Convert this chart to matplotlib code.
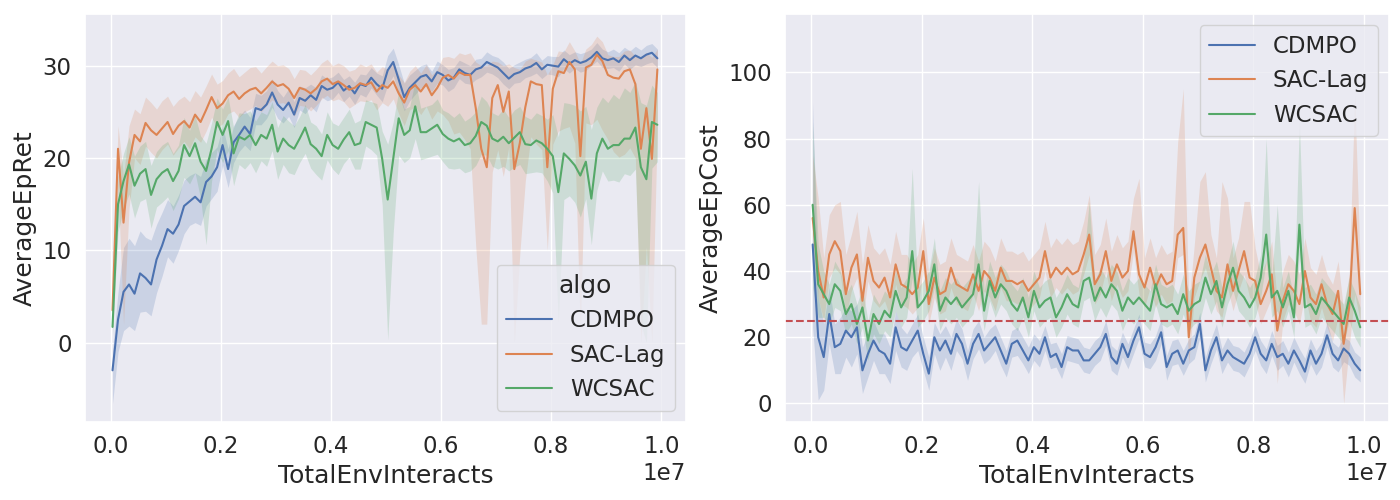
import numpy as np
import matplotlib
matplotlib.use('Agg')
import matplotlib.pyplot as plt
import seaborn as sns

sns.set_theme(style='darkgrid', font_scale=1.5)

algos = ['CDMPO', 'SAC-Lag', 'WCSAC']
steps = np.arange(100) * 1e5 + 3e4
cost_limit = 25

# AverageEpRet (mean, distance of band below, distance of band above)
ret_cdmpo = [-3.0, 2.5, 5.5, 6.3, 5.3, 7.5, 7.0, 6.3, 9.0, 10.5,
             12.3, 11.8, 12.8, 14.8, 15.3, 15.8, 15.2, 17.4, 18.0, 19.0,
             21.4, 18.8, 21.7, 22.5, 23.4, 22.6, 25.4, 25.2, 25.8, 27.1,
             25.8, 25.2, 26.0, 24.7, 26.5, 26.2, 26.8, 26.3, 27.8, 27.4,
             27.6, 28.2, 27.3, 27.8, 27.0, 28.0, 27.8, 28.7, 28.0, 27.5,
             29.5, 30.4, 28.5, 26.6, 27.6, 28.2, 28.8, 29.0, 28.3, 29.3,
             29.0, 28.4, 28.7, 29.6, 29.2, 29.0, 29.6, 29.8, 30.4, 30.1,
             29.8, 29.2, 28.6, 29.1, 29.3, 29.7, 29.9, 30.3, 29.6, 30.1,
             30.0, 29.9, 30.7, 30.2, 30.6, 30.3, 30.5, 30.9, 31.5, 30.8,
             30.6, 30.8, 30.4, 31.1, 30.6, 31.1, 30.8, 31.2, 31.4, 30.8]
ret_cdmpo_dn = [3.6, 3.5, 4.2, 4.5, 4.0, 4.2, 3.6, 3.4, 3.6, 3.3,
                3.0, 3.2, 2.8, 3.0, 2.6, 2.8, 2.5, 2.6, 2.4, 2.6,
                2.2, 2.0, 2.2, 1.8, 2.0, 1.8, 1.8, 1.6, 1.5, 1.6,
                1.5, 1.4, 1.5, 1.4, 1.3, 1.4, 1.2, 1.3, 1.2, 1.2,
                1.2, 1.1, 1.2, 1.1, 1.2, 1.1, 1.2, 1.1, 1.2, 1.4,
                1.6, 1.5, 1.6, 1.5, 1.4, 1.3, 1.2, 1.2, 1.1, 1.2,
                1.1, 1.2, 1.1, 1.0, 1.1, 1.0, 1.1, 1.0, 1.1, 1.0,
                1.1, 1.2, 1.1, 1.0, 1.1, 1.0, 1.0, 1.1, 1.0, 1.0,
                1.0, 1.1, 1.0, 1.0, 0.9, 1.0, 1.0, 0.9, 1.0, 1.0,
                0.9, 1.0, 1.0, 0.9, 1.0, 1.0, 0.9, 1.0, 1.0, 1.0]
ret_cdmpo_up = [2.2, 3.0, 4.8, 5.0, 5.2, 4.6, 4.4, 4.8, 3.8, 3.6,
                3.2, 3.0, 3.2, 2.8, 2.8, 2.6, 2.8, 2.4, 2.6, 2.2,
                2.0, 2.2, 1.8, 2.0, 1.8, 1.8, 1.6, 1.6, 1.5, 1.5,
                1.5, 1.4, 1.5, 1.4, 1.3, 1.4, 1.2, 1.3, 1.2, 1.2,
                1.2, 1.1, 1.2, 1.1, 1.2, 1.1, 1.2, 1.1, 1.2, 1.4,
                1.6, 1.5, 1.6, 1.5, 1.4, 1.3, 1.2, 1.2, 1.1, 1.2,
                1.1, 1.2, 1.1, 1.0, 1.1, 1.0, 1.1, 1.0, 1.1, 1.0,
                1.1, 1.2, 1.1, 1.0, 1.1, 1.0, 1.0, 1.1, 1.0, 1.0,
                1.0, 1.1, 1.0, 1.0, 0.9, 1.0, 1.0, 0.9, 1.0, 1.0,
                0.9, 1.0, 1.0, 0.9, 1.0, 1.0, 0.9, 1.0, 1.0, 1.0]

ret_sac = [3.5, 21.0, 13.0, 19.5, 22.5, 21.8, 23.8, 23.0, 22.5, 23.2,
           23.9, 22.6, 23.5, 24.0, 23.3, 24.7, 23.9, 25.2, 26.6, 25.4,
           25.9, 26.8, 27.2, 26.4, 27.0, 27.4, 27.6, 27.0, 27.6, 28.3,
           27.8, 28.0, 27.5, 26.5, 27.6, 27.4, 27.0, 27.5, 28.3, 28.6,
           28.0, 28.3, 27.9, 27.4, 27.6, 28.1, 27.9, 28.2, 27.2, 27.9,
           27.6, 28.3, 27.0, 26.0, 27.4, 27.9, 27.2, 28.0, 26.8, 27.6,
           28.7, 29.0, 28.6, 29.3, 29.0, 29.0, 25.4, 21.0, 19.0, 26.5,
           27.9, 25.0, 27.2, 18.8, 21.6, 25.5, 28.3, 28.0, 27.9, 19.0,
           27.5, 29.4, 29.2, 30.4, 29.6, 20.2, 29.8, 30.1, 31.2, 30.5,
           29.0, 28.7, 28.6, 29.4, 29.6, 28.0, 21.0, 25.4, 19.9, 29.6]
ret_sac_dn = [2.0, 4.0, 11.0, 5.0, 2.5, 2.5, 2.5, 2.4, 2.5, 2.3,
              2.4, 2.3, 2.4, 2.2, 2.3, 2.4, 2.2, 2.3, 2.2, 2.1,
              2.2, 2.0, 2.1, 2.0, 2.0, 2.1, 1.9, 2.0, 1.9, 2.0,
              1.9, 2.0, 1.9, 2.0, 1.9, 1.8, 1.9, 1.8, 1.9, 1.8,
              1.8, 1.9, 1.8, 2.0, 1.8, 1.9, 1.8, 1.9, 2.0, 1.9,
              2.0, 1.9, 2.2, 2.5, 2.2, 2.3, 2.5, 2.4, 2.6, 2.5,
              4.0, 5.0, 6.0, 6.5, 7.0, 8.0, 15.0, 19.0, 17.0, 8.0,
              7.0, 7.0, 6.0, 18.8, 12.0, 8.0, 6.0, 6.5, 7.0, 9.0,
              6.0, 6.5, 6.0, 7.0, 8.0, 19.0, 6.0, 6.5, 7.0, 7.5,
              7.0, 8.0, 8.5, 9.0, 8.5, 8.0, 21.0, 15.0, 19.9, 6.0]
ret_sac_up = [2.0, 2.5, 5.0, 4.0, 2.8, 3.0, 2.8, 3.0, 2.8, 3.0,
              2.8, 3.0, 2.8, 2.7, 2.8, 2.6, 2.7, 2.6, 2.5, 2.6,
              2.5, 2.4, 2.5, 2.4, 2.3, 2.4, 2.3, 2.2, 2.3, 2.2,
              2.2, 2.1, 2.2, 2.1, 2.0, 2.1, 2.0, 2.1, 2.0, 2.1,
              2.0, 2.0, 2.1, 2.0, 2.0, 2.1, 2.0, 2.0, 2.1, 2.0,
              2.0, 2.1, 2.0, 2.2, 2.0, 2.1, 2.0, 2.1, 2.2, 2.0,
              2.2, 2.0, 2.2, 2.1, 2.2, 2.4, 5.0, 9.0, 11.0, 4.0,
              2.5, 5.0, 3.0, 11.0, 8.0, 5.0, 2.5, 2.6, 2.5, 10.0,
              2.6, 2.2, 2.3, 2.2, 2.0, 10.0, 2.0, 2.2, 2.0, 2.1,
              2.2, 2.3, 2.4, 2.2, 2.1, 3.0, 10.0, 6.0, 11.0, 2.2]

ret_wcsac = [1.7, 15.0, 17.5, 19.3, 17.0, 18.3, 18.8, 16.0, 17.7, 18.4,
             18.8, 17.5, 18.6, 21.4, 20.2, 21.6, 19.6, 18.6, 21.0, 23.9,
             22.5, 24.0, 20.5, 22.3, 22.0, 22.5, 21.4, 22.5, 22.1, 23.6,
             20.7, 22.1, 21.4, 21.0, 22.1, 23.3, 21.5, 21.0, 20.2, 22.5,
             21.4, 21.0, 22.0, 22.8, 21.4, 21.6, 23.9, 23.6, 23.3, 19.9,
             15.5, 19.9, 24.3, 22.5, 23.0, 25.6, 22.8, 22.8, 23.2, 23.6,
             22.6, 22.1, 21.8, 22.1, 21.4, 21.6, 22.4, 23.9, 23.5, 22.1,
             21.8, 22.3, 21.6, 22.2, 22.8, 21.5, 21.4, 21.9, 21.6, 21.0,
             20.2, 16.3, 20.5, 19.9, 19.2, 18.1, 19.6, 15.6, 20.5, 22.1,
             21.0, 21.4, 21.4, 22.1, 22.1, 23.3, 19.0, 17.7, 23.9, 23.6]
ret_wcsac_dn = [1.0, 3.0, 3.0, 3.2, 3.5, 3.0, 3.2, 3.6, 3.0, 3.2,
                3.0, 3.2, 3.0, 3.5, 3.0, 3.2, 4.0, 8.0, 3.5, 3.0,
                3.0, 3.2, 3.5, 3.0, 3.2, 3.0, 3.0, 2.8, 3.0, 2.8,
                3.0, 2.8, 3.0, 2.8, 2.6, 2.8, 2.6, 2.8, 2.6, 2.7,
                2.6, 2.8, 2.6, 2.7, 2.6, 2.8, 2.6, 2.7, 3.0, 5.0,
                15.2, 8.0, 4.0, 3.0, 3.0, 3.5, 3.0, 2.8, 3.0, 3.2,
                3.0, 3.2, 3.0, 3.2, 3.0, 3.0, 3.2, 3.5, 3.2, 3.0,
                3.0, 3.2, 3.0, 3.2, 3.5, 3.2, 3.0, 3.4, 3.2, 3.5,
                4.0, 14.0, 5.0, 4.0, 4.0, 4.5, 4.0, 5.0, 4.0, 3.5,
                3.5, 3.8, 4.0, 3.8, 4.0, 4.5, 17.0, 17.7, 5.0, 4.0]
ret_wcsac_up = [1.0, 3.0, 3.0, 3.0, 3.2, 3.0, 3.0, 3.2, 3.0, 3.0,
                3.0, 3.0, 2.8, 3.0, 2.8, 3.0, 2.8, 3.0, 2.8, 2.6,
                2.8, 2.6, 2.8, 2.6, 2.8, 2.6, 2.6, 2.5, 2.6, 2.5,
                2.6, 2.5, 2.6, 2.5, 2.4, 2.5, 2.4, 2.5, 2.4, 2.5,
                2.4, 2.5, 2.4, 2.5, 2.4, 2.5, 2.4, 2.5, 2.6, 3.0,
                6.0, 4.0, 3.0, 2.8, 2.6, 2.8, 2.6, 2.8, 2.6, 2.8,
                2.6, 2.8, 2.6, 2.8, 2.6, 2.8, 2.6, 2.8, 2.6, 2.8,
                2.8, 3.0, 2.8, 3.0, 2.8, 3.0, 2.8, 3.0, 3.0, 3.2,
                4.5, 6.0, 5.5, 6.0, 6.5, 7.0, 6.0, 7.5, 5.0, 4.5,
                5.0, 5.5, 5.0, 5.5, 5.0, 5.0, 7.0, 8.0, 4.0, 3.5]

# AverageEpCost
cost_cdmpo = [48, 20, 14, 27, 17, 18, 22, 20, 23, 10,
              15, 19, 16, 15, 12, 23, 17, 16, 19, 22,
              15, 9, 20, 16, 19, 15, 21, 18, 12, 18,
              21, 16, 18, 20, 16, 12, 18, 19, 16, 13,
              17, 15, 20, 14, 15, 11, 17, 16, 16, 13,
              13, 15, 17, 21, 14, 12, 18, 14, 19, 23,
              15, 14, 17, 21.5, 11, 15, 16, 12, 16, 17,
              24, 10, 16, 20, 13, 16, 14, 13, 12, 15,
              20, 15, 13, 18, 14, 15, 12, 16, 13, 9.6,
              16, 12, 15, 20.6, 15, 13, 16.6, 15, 12, 10]
cost_cdmpo_dn = [25, 19, 10, 9, 8, 9, 8, 9, 8, 7,
                 7, 6, 7, 6, 6, 7, 6, 6, 5, 6,
                 5, 5, 5, 6, 5, 5, 5, 4.5, 5, 4.5,
                 4.5, 4, 4.5, 4, 4.5, 4, 4, 4.5, 4, 4,
                 4, 4, 4, 3.5, 4, 3.5, 4, 3.5, 4, 3.5,
                 4, 3.5, 4, 3.5, 4, 3.5, 4, 3.5, 4, 3.5,
                 4, 3.5, 4, 3.5, 4, 3.5, 4, 3.5, 4, 3.5,
                 4, 3.5, 4, 3.5, 4, 3.5, 4, 3.5, 4, 3.5,
                 4, 3.5, 4, 3.5, 4, 3.5, 4, 3.5, 4, 3.5,
                 4, 3.5, 4, 3.5, 4, 3.5, 4, 3.5, 4, 3.5]
cost_cdmpo_up = [43, 12, 10, 8, 7, 8, 7, 8, 7, 7,
                 6, 6, 5, 6, 5, 5, 6, 5, 5, 5,
                 5, 5, 4.5, 5, 4.5, 5, 4.5, 4.5, 4, 4.5,
                 4, 4, 4.5, 4, 4, 4, 4, 4, 4, 4,
                 4, 4, 3.5, 4, 3.5, 4, 3.5, 4, 3.5, 4,
                 3.5, 4, 3.5, 4, 3.5, 4, 3.5, 4, 3.5, 4,
                 3.5, 4, 3.5, 4, 3.5, 4, 3.5, 4, 3.5, 4,
                 3.5, 4, 3.5, 4, 3.5, 4, 3.5, 4, 3.5, 4,
                 3.5, 4, 3.5, 4, 3.5, 4, 3.5, 4, 3.5, 4,
                 3.5, 4, 3.5, 4, 3.5, 4, 3.5, 4, 3.5, 4]

cost_sac = [56, 40, 32, 45, 49, 46, 33, 41, 45, 31,
            44, 37, 35, 38, 32, 42, 36, 35, 33, 35,
            46, 30, 38, 33, 34, 41, 36, 35, 34, 39,
            34, 40, 38, 34, 41, 37, 37, 36, 37, 34,
            36, 38, 46, 38, 41, 39, 41, 39, 40, 45,
            51, 36, 39, 46, 37, 42, 38, 40, 52, 39,
            35, 41, 35, 39, 36, 37, 51, 53, 20, 38,
            44, 48, 41, 34, 32, 42, 34, 40, 46, 38,
            37, 30, 34, 39, 22, 31, 36, 34, 30, 40,
            32, 30, 36, 30, 27, 34, 18, 29, 59, 33]
cost_sac_dn = [8, 8, 7, 7, 8, 7, 7, 7, 7, 6,
               7, 6, 6, 7, 6, 6, 6, 6, 6, 6,
               6, 6, 6, 6, 6, 6, 6, 6, 6, 6,
               6, 6, 6, 6, 6, 6, 6, 6, 6, 6,
               6, 6, 6, 6, 6, 6, 6, 6, 6, 6,
               6, 6, 6, 6, 6, 6, 6, 6, 6, 6,
               6, 6, 6, 6, 6, 6, 7, 8, 8, 6,
               7, 7, 6, 6, 6, 7, 6, 6, 7, 6,
               6, 6, 6, 7, 16, 6, 6, 6, 6, 7,
               7, 7, 7, 7, 8, 8, 18, 12, 26, 8]
cost_sac_up = [19, 22, 12, 12, 11, 15, 12, 10, 13, 11,
               10, 10, 10, 9, 10, 10, 9, 10, 9, 10,
               10, 9, 9, 9, 9, 9, 9, 9, 9, 9,
               9, 9, 9, 9, 9, 9, 9, 9, 9, 9,
               9, 9, 9, 9, 9, 9, 9, 9, 9, 10,
               12, 9, 9, 10, 9, 9, 9, 9, 10, 29,
               9, 9, 9, 9, 9, 9, 28, 42, 10, 10,
               23, 22, 10, 10, 35, 20, 10, 10, 15, 23,
               10, 9, 9, 10, 9, 9, 9, 9, 9, 10,
               9, 9, 9, 9, 9, 9, 10, 10, 34, 9]

cost_wcsac = [60, 36, 33, 30, 36, 34, 27, 30, 24, 29,
              19, 27, 24, 28, 26, 34, 29, 32, 46, 29,
              31, 34, 42, 28, 32, 30, 32, 29, 31, 33,
              42, 28, 37, 32, 36, 34, 30, 28, 32, 26,
              34, 29, 31, 32, 26, 29, 33, 30, 29, 37,
              38, 31, 35, 32, 36, 34, 28, 32, 30, 32,
              30, 28, 36, 30, 29, 30, 27, 33, 28, 30,
              31, 38, 33, 37, 29, 36, 41, 34, 32, 29,
              32, 38, 51, 32, 34, 29, 34, 26, 54, 29,
              30, 27, 32, 30, 28, 26, 24, 32, 28, 23]
cost_wcsac_dn = [25, 10, 7, 6, 7, 6, 6, 6, 6, 6,
                 6, 6, 6, 6, 6, 6, 6, 6, 8, 6,
                 6, 6, 7, 6, 6, 6, 6, 6, 6, 6,
                 7, 6, 6, 6, 6, 6, 6, 6, 6, 6,
                 6, 6, 6, 6, 6, 6, 6, 6, 6, 6,
                 6, 6, 6, 6, 6, 6, 6, 6, 6, 6,
                 6, 6, 6, 6, 6, 6, 6, 6, 6, 6,
                 6, 6, 6, 6, 6, 6, 7, 6, 6, 6,
                 6, 6, 8, 6, 6, 6, 6, 6, 9, 6,
                 6, 6, 6, 6, 6, 6, 6, 7, 8, 6]
cost_wcsac_up = [25, 12, 7, 6, 7, 6, 6, 6, 6, 6,
                 6, 6, 6, 6, 6, 6, 6, 6, 25, 6,
                 6, 6, 8, 6, 6, 6, 6, 6, 6, 6,
                 25, 6, 6, 6, 6, 6, 6, 6, 6, 6,
                 6, 6, 6, 6, 6, 6, 6, 6, 6, 6,
                 23, 6, 6, 6, 6, 6, 6, 6, 6, 6,
                 6, 6, 6, 6, 6, 6, 6, 6, 6, 6,
                 6, 7, 6, 6, 6, 6, 8, 6, 6, 6,
                 6, 7, 29, 6, 26, 6, 6, 6, 31, 6,
                 6, 6, 6, 6, 6, 6, 6, 6, 6, 6]

ret_series = [(ret_cdmpo, ret_cdmpo_dn, ret_cdmpo_up),
              (ret_sac, ret_sac_dn, ret_sac_up),
              (ret_wcsac, ret_wcsac_dn, ret_wcsac_up)]
cost_series = [(cost_cdmpo, cost_cdmpo_dn, cost_cdmpo_up),
               (cost_sac, cost_sac_dn, cost_sac_up),
               (cost_wcsac, cost_wcsac_dn, cost_wcsac_up)]

colors = sns.color_palette('deep')

fig = plt.figure(figsize=(14, 5), dpi=100)
ax1 = fig.add_axes([85/1400, 78/500, 601/1400, 408/500])
ax2 = fig.add_axes([785/1400, 78/500, 604/1400, 408/500])

for ax, series in [(ax1, ret_series), (ax2, cost_series)]:
    for name, (m, dn, up), c in zip(algos, series, colors):
        m = np.array(m, dtype=float)
        ax.fill_between(steps, m - np.array(dn), m + np.array(up),
                        color=c, alpha=0.2, linewidth=0)
        ax.plot(steps, m, color=c, lw=1.5, label=name)
    ax.set_xlabel('TotalEnvInteracts')
    ax.set_xlim(-0.47e6, 10.45e6)

ax2.axhline(cost_limit, color=colors[3], ls='--', lw=1.5)

ax1.set_ylabel('AverageEpRet')
ax1.set_ylim(-8.6, 35.6)
ax1.set_yticks([0, 10, 20, 30])
ax1.legend(title='algo', loc='lower right')

ax2.set_ylabel('AverageEpCost')
ax2.set_ylim(-5.6, 117.6)
ax2.set_yticks([0, 20, 40, 60, 80, 100])
ax2.legend(loc='upper right')

plt.savefig('out.png')
